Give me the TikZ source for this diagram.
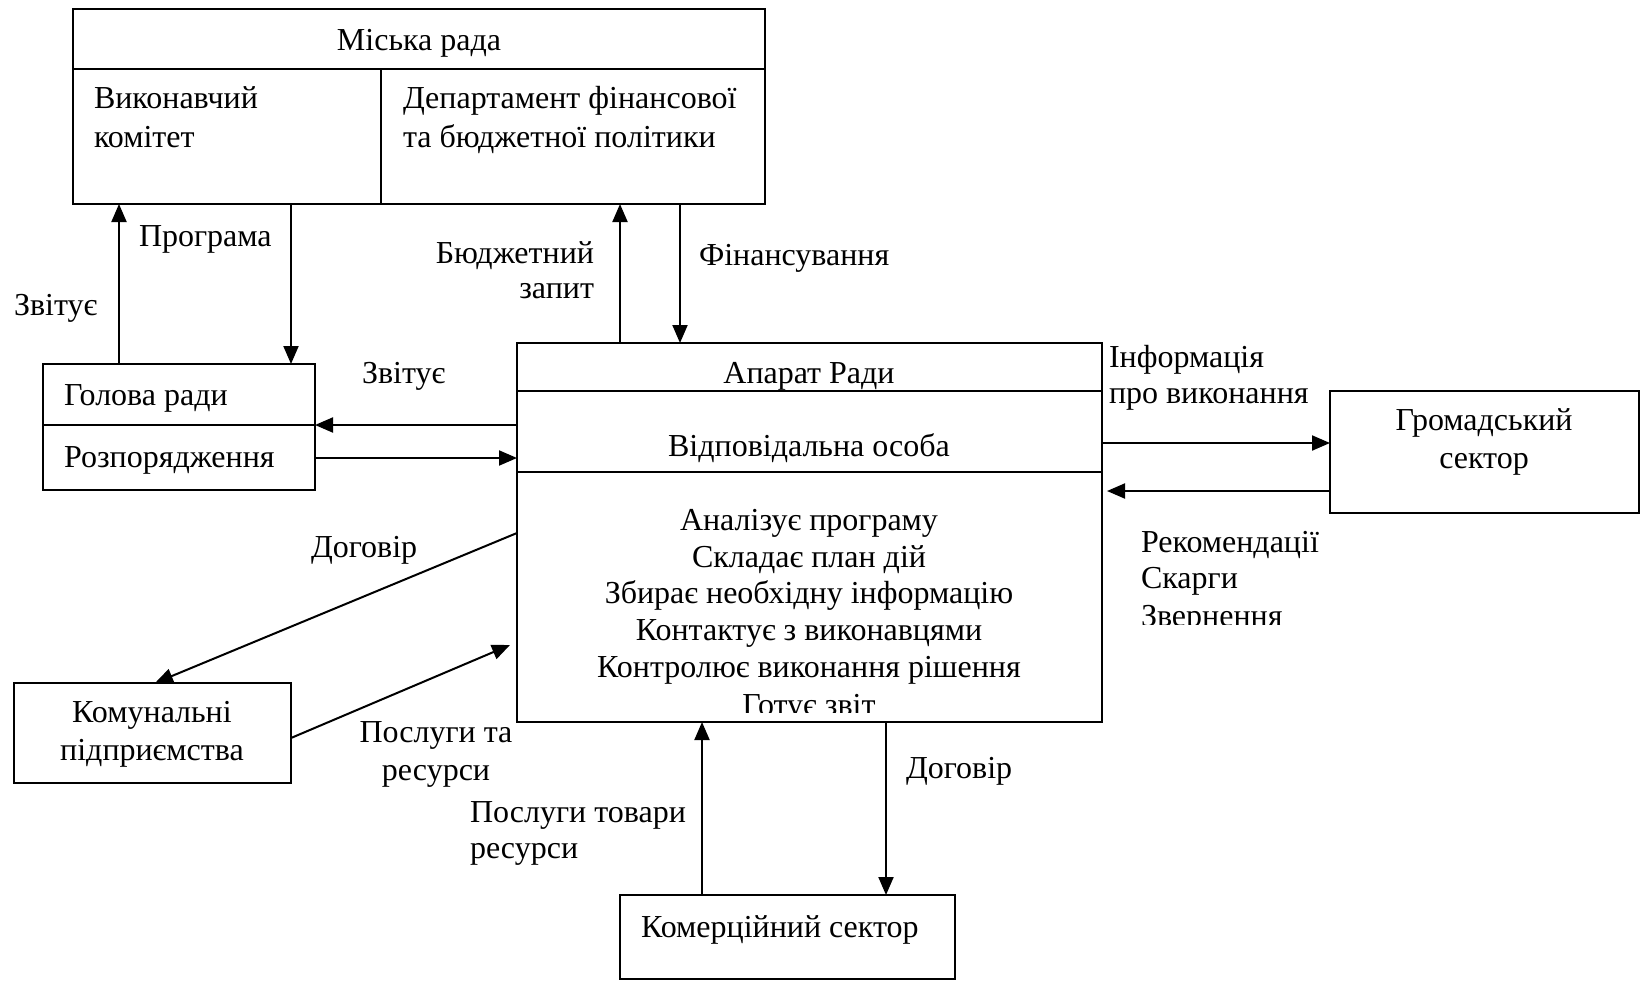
\documentclass[tikz,border=0pt]{standalone}
\usepackage{fontspec}
\setmainfont{Liberation Serif}
\usetikzlibrary{arrows.meta}
\begin{document}
\begin{tikzpicture}[x=1pt,y=-1pt,
  box/.style={draw, line width=2pt, rectangle, inner sep=0pt, outer sep=0pt, anchor=north west},
  arr/.style={line width=2pt, -{Triangle[length=18pt,width=15pt]}},
  sepline/.style={line width=2pt},
  txt/.style={font=\fontsize{32}{36.8}\selectfont, inner sep=0pt, outer sep=0pt},
]
\useasboundingbox (0,0) rectangle (1645,980);
% boxes
\node[box, minimum width=692, minimum height=195] (mr) at (73,9) {};
\node[box, minimum width=272, minimum height=126] (gol) at (43,364) {};
\node[box, minimum width=585, minimum height=379] (ap) at (517,343) {};
\node[box, minimum width=309, minimum height=122] (gs) at (1330,391) {};
\node[box, minimum width=277, minimum height=100] (ku) at (14,683) {};
\node[box, minimum width=335, minimum height=84] (ks) at (620,895) {};
% inner separators
\draw[sepline] (mr.west |- 0,69) -- (mr.east |- 0,69);
\draw[sepline] (381,69) -- (381,0 |- mr.south);
\draw[sepline] (gol.west |- 0,425) -- (gol.east |- 0,425);
\draw[sepline] (ap.west |- 0,391) -- (ap.east |- 0,391);
\draw[sepline] (ap.west |- 0,472) -- (ap.east |- 0,472);
% box texts
\node[txt, anchor=base] (tMR) at (419,50) {Міська рада};
\node[txt, anchor=base west] (tVK1) at (94,108) {Виконавчий};
\node[txt, anchor=base west] (tVK2) at (94,147) {комітет};
\node[txt, anchor=base west] (tDF1) at (403,108) {Департамент фінансової};
\node[txt, anchor=base west] (tDF2) at (403,147) {та бюджетної політики};
\node[txt, anchor=base west] (tGR) at (64,405) {Голова ради};
\node[txt, anchor=base west] (tRZ) at (64,467) {Розпорядження};
\node[txt, anchor=base] (tAR) at (809,383) {Апарат Ради};
\node[txt, anchor=base] (tVO) at (809,456) {Відповідальна особа};
\node[txt, anchor=base] (tL1) at (809,530) {Аналізує програму};
\node[txt, anchor=base] (tL2) at (809,567) {Складає план дій};
\node[txt, anchor=base] (tL3) at (809,603) {Збирає необхідну інформацію};
\node[txt, anchor=base] (tL4) at (809,640) {Контактує з виконавцями};
\node[txt, anchor=base] (tL5) at (809,677) {Контролює виконання рішення};
\begin{scope}
\clip (517,680) rectangle (1102,712.5);
\node[txt, anchor=base] (tL6) at (809,715) {Готує звіт};
\end{scope}
\node[txt, anchor=base] (tGS1) at (1484,430) {Громадський};
\node[txt, anchor=base] (tGS2) at (1484,468) {сектор};
\node[txt, anchor=base] (tKU1) at (152,722) {Комунальні};
\node[txt, anchor=base] (tKU2) at (152,760) {підприємства};
\node[txt, anchor=base west] (tKS) at (641,937) {Комерційний сектор};
% connector labels
\node[txt, anchor=base west] (lPR) at (139,246) {Програма};
\node[txt, anchor=base west] (lZV1) at (14,315) {Звітує};
\node[txt, anchor=base east] (lBZ1) at (594,263) {Бюджетний};
\node[txt, anchor=base east] (lBZ2) at (594,298) {запит};
\node[txt, anchor=base west] (lFN) at (699,265) {Фінансування};
\node[txt, anchor=base west] (lZV2) at (362,383) {Звітує};
\node[txt, anchor=base west] (lIN1) at (1109,367) {Інформація};
\node[txt, anchor=base west] (lIN2) at (1109,403) {про виконання};
\node[txt, anchor=base west] (lRK1) at (1141,552) {Рекомендації};
\node[txt, anchor=base west] (lRK2) at (1141,588) {Скарги};
\begin{scope}
\clip (1120,590) rectangle (1320,624.5);
\node[txt, anchor=base west] (lRK3) at (1141,626) {Звернення};
\end{scope}
\node[txt, anchor=base west] (lDG1) at (311,557) {Договір};
\node[txt, anchor=base] (lPT1) at (436,742) {Послуги та};
\node[txt, anchor=base] (lPT2) at (436,780) {ресурси};
\node[txt, anchor=base west] (lPT3) at (470,822) {Послуги товари};
\node[txt, anchor=base west] (lPT4) at (470,858) {ресурси};
\node[txt, anchor=base west] (lDG2) at (906,778) {Договір};
% connectors
\coordinate (kuEnd) at (510,645);
\draw[arr] (119,0 |- gol.north) -- (119,0 |- mr.south);
\draw[arr] (291,0 |- mr.south) -- (291,0 |- gol.north);
\draw[arr] (620,0 |- ap.north) -- (620,0 |- mr.south);
\draw[arr] (680,0 |- mr.south) -- (680,0 |- ap.north);
\draw[arr] (ap.west |- 0,425) -- (gol.east |- 0,425);
\draw[arr] (gol.east |- 0,458) -- (ap.west |- 0,458);
\draw[arr] (ap.east |- 0,443) -- (gs.west |- 0,443);
\draw[arr, shorten >=5pt] (gs.west |- 0,491) -- (ap.east |- 0,491);
\draw[arr] (ap.west |- 0,533) -- (155,0 |- ku.north);
\draw[arr] (ku.east |- 0,738) -- (kuEnd);
\draw[arr] (702,0 |- ks.north) -- (702,0 |- ap.south);
\draw[arr] (886,0 |- ap.south) -- (886,0 |- ks.north);
\end{tikzpicture}
\end{document}
